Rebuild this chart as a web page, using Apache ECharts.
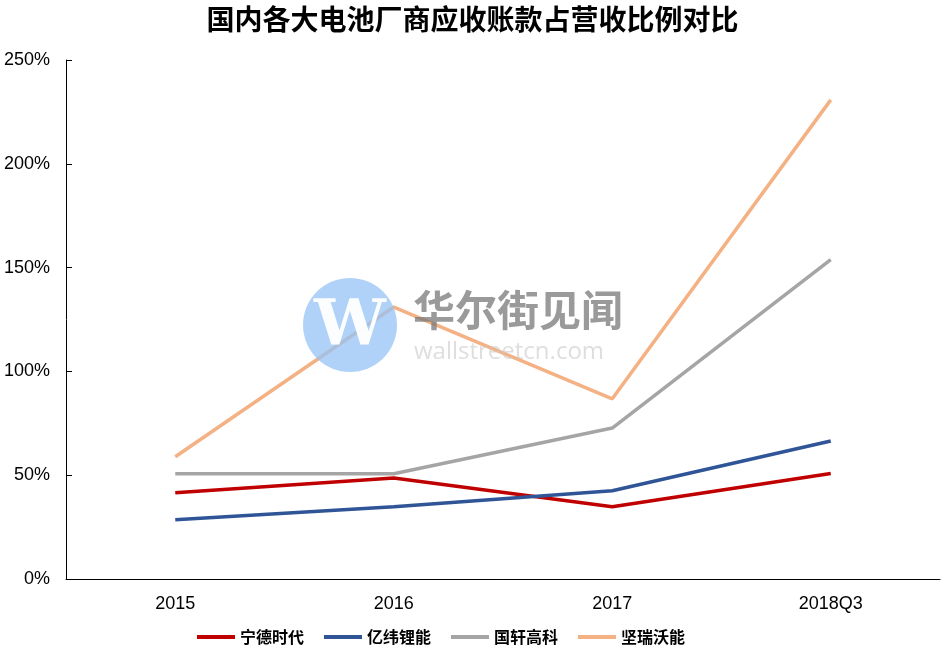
<!DOCTYPE html>
<html><head><meta charset="utf-8">
<script src="https://cdn.jsdelivr.net/npm/echarts@6/dist/echarts.min.js"></script>
<style>html,body{margin:0;padding:0;background:#fff}#c{width:945px;height:652px}</style>
</head><body><div id="c"></div>
<script>
const categories = ['2015', '2016', '2017', '2018Q3'];
const seriesNames = ['宁德时代', '亿纬锂能', '国轩高科', '坚瑞沃能'];
const ningde = [41.5, 48.7, 34.8, 50.8];
const yiwei = [28.5, 34.8, 42.5, 66.5];
const guoxuan = [50.7, 50.7, 72.7, 153.8];
const jianrui = [58.9, 131.0, 86.8, 230.8];
const yTicks = [0, 50, 100, 150, 200, 250];
const colors = ['#C00000', '#2F5597', '#A5A5A5', '#F4B183'];

const chart = echarts.init(document.getElementById('c'));
const allData = [ningde, yiwei, guoxuan, jianrui];
chart.setOption({
  animation: false,
  backgroundColor: '#fff',
  title: {
    text: '国内各大电池厂商应收账款占营收比例对比',
    left: 'center', top: 0,
    textStyle: { fontFamily: 'Noto Sans CJK SC', fontWeight: 'bold', fontSize: 28, color: '#000' }
  },
  legend: {
    bottom: 2, left: 192,
    itemWidth: 38, itemHeight: 4, itemGap: 20,
    icon: 'rect',
    textStyle: { fontFamily: 'Noto Sans CJK SC', fontWeight: 'bold', fontSize: 16, color: '#000' },
    data: seriesNames
  },
  grid: { left: 66, right: 5, top: 60, bottom: 73, containLabel: false },
  xAxis: {
    type: 'category', data: categories, boundaryGap: true,
    axisLine: { lineStyle: { color: '#000', width: 1 } },
    axisTick: { inside: true, length: 6, lineStyle: { color: '#000' } },
    axisLabel: { fontFamily: 'Liberation Sans', fontSize: 18, color: '#000', margin: 16 }
  },
  yAxis: {
    type: 'value', min: yTicks[0], max: yTicks[yTicks.length - 1], interval: 50,
    axisLine: { show: true, lineStyle: { color: '#000', width: 1 } },
    axisTick: { show: true, inside: true, length: 6, lineStyle: { color: '#000' } },
    splitLine: { show: false },
    axisLabel: { fontFamily: 'Liberation Sans', fontSize: 18, color: '#000', margin: 16, formatter: v => v + '%' }
  },
  graphic: [
    { type: 'circle', shape: { cx: 350, cy: 325, r: 47 }, style: { fill: 'rgba(150,195,245,0.75)' }, z: 100 },
    { type: 'text', x: 350, y: 328, style: { text: 'W', fill: 'rgba(255,255,255,0.95)', font: 'bold 64px "DejaVu Serif"', align: 'center', verticalAlign: 'middle' }, z: 101 },
    { type: 'text', x: 413, y: 310, style: { text: '华尔街见闻', fill: 'rgba(120,120,120,0.75)', font: 'bold 42px "Noto Sans CJK SC"', align: 'left', verticalAlign: 'middle' }, z: 101 },
    { type: 'text', x: 414, y: 352, style: { text: 'wallstreetcn.com', fill: 'rgba(200,200,200,0.6)', font: '24px "Open Sans"', align: 'left', verticalAlign: 'middle' }, z: 101 }
  ],
  series: seriesNames.map((n, i) => ({
    name: n, type: 'line', data: allData[i],
    symbol: 'none', lineStyle: { width: 3.5, color: colors[i] }, itemStyle: { color: colors[i] },
    z: 2 + i
  }))
});
</script></body></html>
